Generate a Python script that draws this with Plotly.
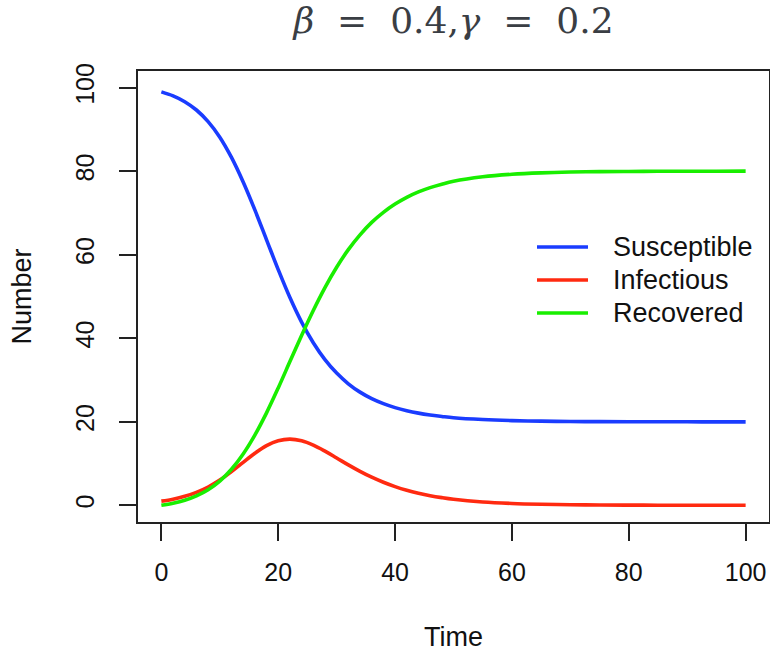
import plotly.graph_objects as go

# ---- data ----
time = [0, 2, 4, 6, 8, 10, 12, 14, 16, 18, 20, 22, 24, 26, 28, 30, 32, 34, 36, 38,
        40, 42, 44, 46, 48, 50, 55, 60, 65, 70, 75, 80, 85, 90, 95, 100]
susceptible = [99.00, 98.04, 96.65, 94.66, 91.89, 88.16, 83.31, 77.42, 70.73, 63.58,
               56.44, 49.75, 43.88, 38.94, 34.90, 31.66, 29.10, 27.10, 25.54, 24.34,
               23.39, 22.65, 22.07, 21.62, 21.27, 20.96, 20.53, 20.28, 20.15, 20.07,
               20.03, 20.01, 20.00, 19.99, 19.98, 19.98]
infectious = [1.00, 1.47, 2.15, 3.10, 4.38, 6.04, 8.05, 10.28, 12.45, 14.28,
              15.46, 15.85, 15.44, 14.40, 12.96, 11.33, 9.68, 8.13, 6.72, 5.51,
              4.47, 3.60, 2.89, 2.30, 1.83, 1.44, 0.80, 0.44, 0.24, 0.13,
              0.07, 0.04, 0.02, 0.01, 0.01, 0.00]
recovered = [0.00, 0.49, 1.20, 2.25, 3.73, 5.80, 8.64, 12.30, 16.82, 22.14,
             28.10, 34.41, 40.68, 46.66, 52.14, 57.01, 61.22, 64.77, 67.75, 70.16,
             72.14, 73.75, 75.04, 76.08, 76.90, 77.60, 78.67, 79.28, 79.61, 79.80,
             79.90, 79.95, 79.98, 80.00, 80.01, 80.02]
series_names = ["Susceptible", "Infectious", "Recovered"]
series_colors = ["#1a3cff", "#ff2a10", "#19ee00"]
tick_vals = [0, 20, 40, 60, 80, 100]

W, H = 770, 652
L, R, T, B = 138, 1, 71, 130

fig = go.Figure()
for name, vals, col in zip(series_names, [susceptible, infectious, recovered], series_colors):
    fig.add_trace(go.Scatter(x=time, y=vals, mode="lines", name=name,
                             line=dict(color=col, width=3.6, shape="spline"),
                             showlegend=False))

axis_common = dict(range=[-4, 104], tickvals=tick_vals, ticks="outside", ticklen=17,
                   tickwidth=1.5, tickcolor="#222222", showgrid=False, zeroline=False,
                   showline=True, linecolor="#222222", linewidth=1.6, mirror=True,
                   tickfont=dict(family="Liberation Sans", size=25, color="#111111"),
                   automargin=False)

sp = "&nbsp;&nbsp;"
fig.update_layout(
    width=W, height=H,
    margin=dict(l=L, r=R, t=T, b=B),
    paper_bgcolor="white", plot_bgcolor="white",
    title=dict(text=f"<i>β</i>{sp}={sp}0.4,<i>γ</i>{sp}={sp}0.2",
               x=(L + (W - L - R) / 2) / W,
               xanchor="center", y=1 - 20 / H, yanchor="middle",
               font=dict(family="DejaVu Serif", size=36, color="#3a3e44")),
    xaxis=dict(axis_common, title=dict(text="Time", standoff=46,
               font=dict(family="Liberation Sans", size=27, color="#111111")),
               ticklabelstandoff=10),
    yaxis=dict(axis_common, tickangle=-90,
               title=dict(text="Number", standoff=32,
               font=dict(family="Liberation Sans", size=27, color="#111111")),
               ticklabelstandoff=15),
)

# manual legend (R-style, no box)
pw, ph = W - L - R, H - T - B
def px2paper_x(px):
    return (px - L) / pw
def px2paper_y(py):
    return (H - B - py) / ph

rows = [247, 280, 313]
for name, col, ry in zip(series_names, series_colors, rows):
    fig.add_shape(type="line", xref="paper", yref="paper",
                  x0=px2paper_x(537), x1=px2paper_x(588),
                  y0=px2paper_y(ry), y1=px2paper_y(ry),
                  line=dict(color=col, width=3.6))
    fig.add_annotation(text=name, xref="paper", yref="paper",
                       x=px2paper_x(611), y=px2paper_y(ry), xanchor="left",
                       yanchor="middle", showarrow=False,
                       font=dict(family="Liberation Sans", size=27, color="#111111"))

fig.write_html("out.html")
